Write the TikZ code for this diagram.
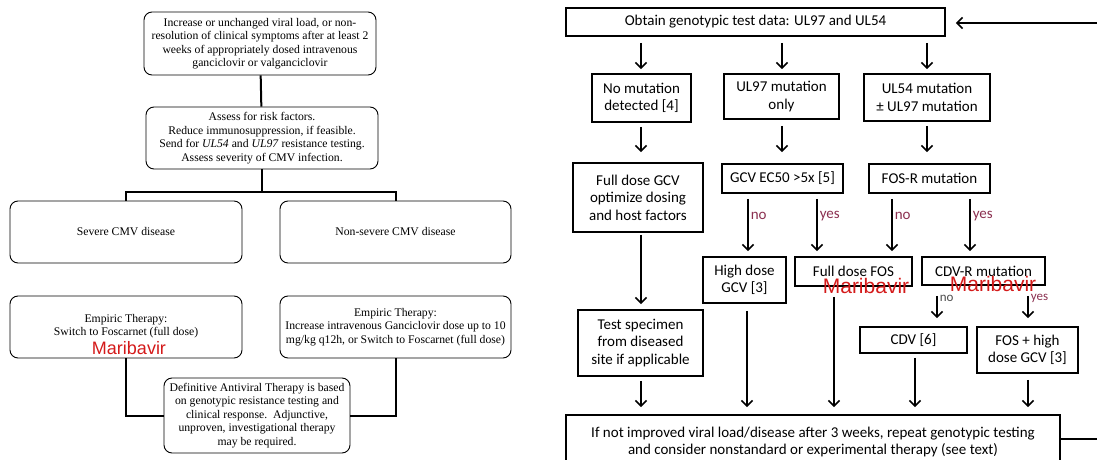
\documentclass[tikz,border=0pt]{standalone}
\usepackage{fontspec}
\setmainfont{Liberation Serif}
\newfontfamily\calib{Carlito}
\newfontfamily\arialf{Liberation Sans}
\usetikzlibrary{arrows.meta}

\definecolor{mari}{HTML}{D41A1A}
\definecolor{ynred}{HTML}{8B3050}

\tikzset{
  lbox/.style={draw, rounded corners=8pt, line width=0.9pt, align=center,
    font=\fontsize{11.7}{13.5}\selectfont, inner sep=1pt},
  rbox/.style={draw, line width=1.8pt, align=center,
    font=\calib\fontsize{15}{17.5}\selectfont, inner sep=1pt},
  link/.style={line width=2pt},
  arr/.style={line width=1.6pt, -{Straight Barb[length=5.5pt,width=11pt,line width=1.6pt]}},
  yn/.style={font=\calib\fontsize{15}{15}\selectfont, text=ynred, inner sep=2pt},
  marilab/.style={font=\arialf\fontsize{#1}{#1}\selectfont, text=mari, inner sep=0pt, anchor=base}
}

\begin{document}
\begin{tikzpicture}[x=1pt, y=-1pt]
\useasboundingbox (0,0) rectangle (1097,460);

% left: empiric therapy chart
\node[lbox, minimum width=232, minimum height=63] (A) at (260,43.5)
  {Increase or unchanged viral load, or non-\\resolution of clinical symptoms after at least 2\\weeks of appropriately dosed intravenous\\ganciclovir or valganciclovir};
\node[lbox, minimum width=232, minimum height=62] (B) at (262,138)
  {Assess for risk factors.\\Reduce immunosuppression, if feasible.\\Send for \textit{UL54} and \textit{UL97} resistance testing.\\Assess severity of CMV infection.};
\node[lbox, minimum width=232, minimum height=62] (C) at (126,232) {Severe CMV disease};
\node[lbox, minimum width=231, minimum height=62] (D) at (395.5,232) {Non-severe CMV disease};
\node[lbox, minimum width=232, minimum height=62] (E) at (126,327) {};
\node[font=\fontsize{11.7}{13.5}\selectfont, align=center] (Etext) at (126,326)
  {Empiric Therapy:\\Switch to Foscarnet (full dose)};
\node[marilab=18] (Emari) at (129,354) {Maribavir};
\node[lbox, minimum width=231, minimum height=62] (F) at (395.5,327)
  {Empiric Therapy:\\Increase intravenous Ganciclovir dose up to 10\\mg/kg q12h, or Switch to Foscarnet (full dose)};
\node[lbox, minimum width=186, minimum height=75] (G) at (257,415.5)
  {Definitive Antiviral Therapy is based\\on genotypic resistance testing and\\clinical response.\ \ Adjunctive,\\unproven, investigational therapy\\may be required.};

\draw[link] (A) -- (B);
\draw[link] (B.south) -- ++(0,23);
\draw[link] (C.north) -- ++(0,-9) -| (D.north);
\draw[link] (E.south) |- (G.west);
\draw[link] (F.south) |- (G.east);

% right: genotype based chart
\node[rbox, minimum width=379, minimum height=28] (top) at (755.5,22) {Obtain genotypic test data: UL97 and UL54};
\node[rbox, minimum width=99, minimum height=48] (nomut) at (641.5,98) {No mutation\\detected [4]};
\node[rbox, minimum width=115, minimum height=45] (ul97) at (781.5,96.5) {UL97 mutation\\only};
\node[rbox, minimum width=126, minimum height=47] (ul54) at (927,97.5) {UL54 mutation\\± UL97 mutation};
\node[rbox, minimum width=130, minimum height=69] (fullgcv) at (638,197.5) {Full dose GCV\\optimize dosing\\and host factors};
\node[rbox, minimum width=121, minimum height=29] (ec50) at (782.5,178.5) {GCV EC50 >5x [5]};
\node[rbox, minimum width=121, minimum height=29] (fosr) at (929.5,178.5) {FOS-R mutation};
\node[rbox, minimum width=83, minimum height=46] (highgcv) at (744.5,280) {High dose\\GCV [3]};
\node[rbox, minimum width=117, minimum height=29] (fullfos) at (853.5,271.5) {Full dose FOS};
\node[rbox, minimum width=123, minimum height=28] (cdvr) at (983.5,271) {CDV-R mutation};
\node[marilab=21] (fosmari) at (866,293) {Maribavir};
\node[marilab=21] (cdvmari) at (993,291) {Maribavir};
\node[rbox, minimum width=107, minimum height=26] (cdv) at (913.5,340) {CDV [6]};
\node[rbox, minimum width=101, minimum height=46] (foshigh) at (1027.5,350) {FOS + high\\dose GCV [3]};
\node[rbox, minimum width=125, minimum height=66] (specimen) at (640.5,343) {Test specimen\\from diseased\\site if applicable};
\node[rbox, minimum width=494, minimum height=54] (bottom) at (813,442)
  {If not improved viral load/disease after 3 weeks, repeat genotypic testing\\and consider nonstandard or experimental therapy (see text)};

% columns of the arrows
\foreach \c/\x in {c1/641, c2/782, c3/927, xa/748, xb/817, xc/892, xd/970, xe/937, xf/1028, xg/747, xh/834, xi/915}
  \coordinate (\c) at (\x,0);
\coordinate (loopin) at (1097,23);
\coordinate (loopout) at (1097,439);

\draw[arr, shorten <=6pt, shorten >=4pt] (top.south -| c1) -- (nomut.north -| c1);
\draw[arr, shorten <=6pt, shorten >=4pt] (top.south -| c2) -- (ul97.north -| c2);
\draw[arr, shorten <=6pt, shorten >=4pt] (top.south -| c3) -- (ul54.north -| c3);
\draw[arr, shorten <=4pt, shorten >=10pt] (nomut.south -| c1) -- (fullgcv.north -| c1);
\draw[arr, shorten <=6pt, shorten >=11pt] (ul97.south -| c2) -- (ec50.north -| c2);
\draw[arr, shorten <=4pt, shorten >=11pt] (ul54.south -| c3) -- (fosr.north -| c3);

\draw[arr, shorten <=5pt, shorten >=5pt] (ec50.south -| xa) -- node[yn, right, pos=0.35] {no} (highgcv.north -| xa);
\draw[arr, shorten <=5pt, shorten >=5pt] (ec50.south -| xb) -- node[yn, right, pos=0.35] {yes} (fullfos.north -| xb);
\draw[arr, shorten <=5pt, shorten >=5pt] (fosr.south -| xc) -- node[yn, right, pos=0.35] {no} (fullfos.north -| xc);
\draw[arr, shorten <=5pt, shorten >=5pt] (fosr.south -| xd) -- node[yn, right, pos=0.35] {yes} (cdvr.north -| xd);
\draw[arr, shorten <=2pt, shorten >=5pt] (fullgcv.south -| c1) -- (specimen.north -| c1);
\draw[arr, shorten <=10pt, shorten >=8pt] (cdvr.south -| xe) -- node[yn, right, pos=0.3, font=\calib\fontsize{13}{13}\selectfont, text=black!70] {no} (cdv.north -| xe);
\draw[arr, shorten <=10pt, shorten >=8pt] (cdvr.south -| xf) -- node[yn, right, pos=0.3, font=\calib\fontsize{13}{13}\selectfont] {yes} (foshigh.north -| xf);

\draw[arr, shorten <=4pt, shorten >=7pt] (specimen.south -| c1) -- (bottom.north -| c1);
\draw[arr, shorten <=7pt, shorten >=7pt] (highgcv.south -| xg) -- (bottom.north -| xg);
\draw[arr, shorten <=10pt, shorten >=7pt] (fullfos.south -| xh) -- (bottom.north -| xh);
\draw[arr, shorten <=4pt, shorten >=7pt] (cdv.south -| xi) -- (bottom.north -| xi);
\draw[arr, shorten <=6pt, shorten >=7pt] (foshigh.south -| xf) -- (bottom.north -| xf);

\draw[arr, shorten >=10pt] (loopin) -- (top.east |- loopin);
\draw[link, line width=1.6pt] (bottom.east |- loopout) -- (loopout);
\end{tikzpicture}
\end{document}
